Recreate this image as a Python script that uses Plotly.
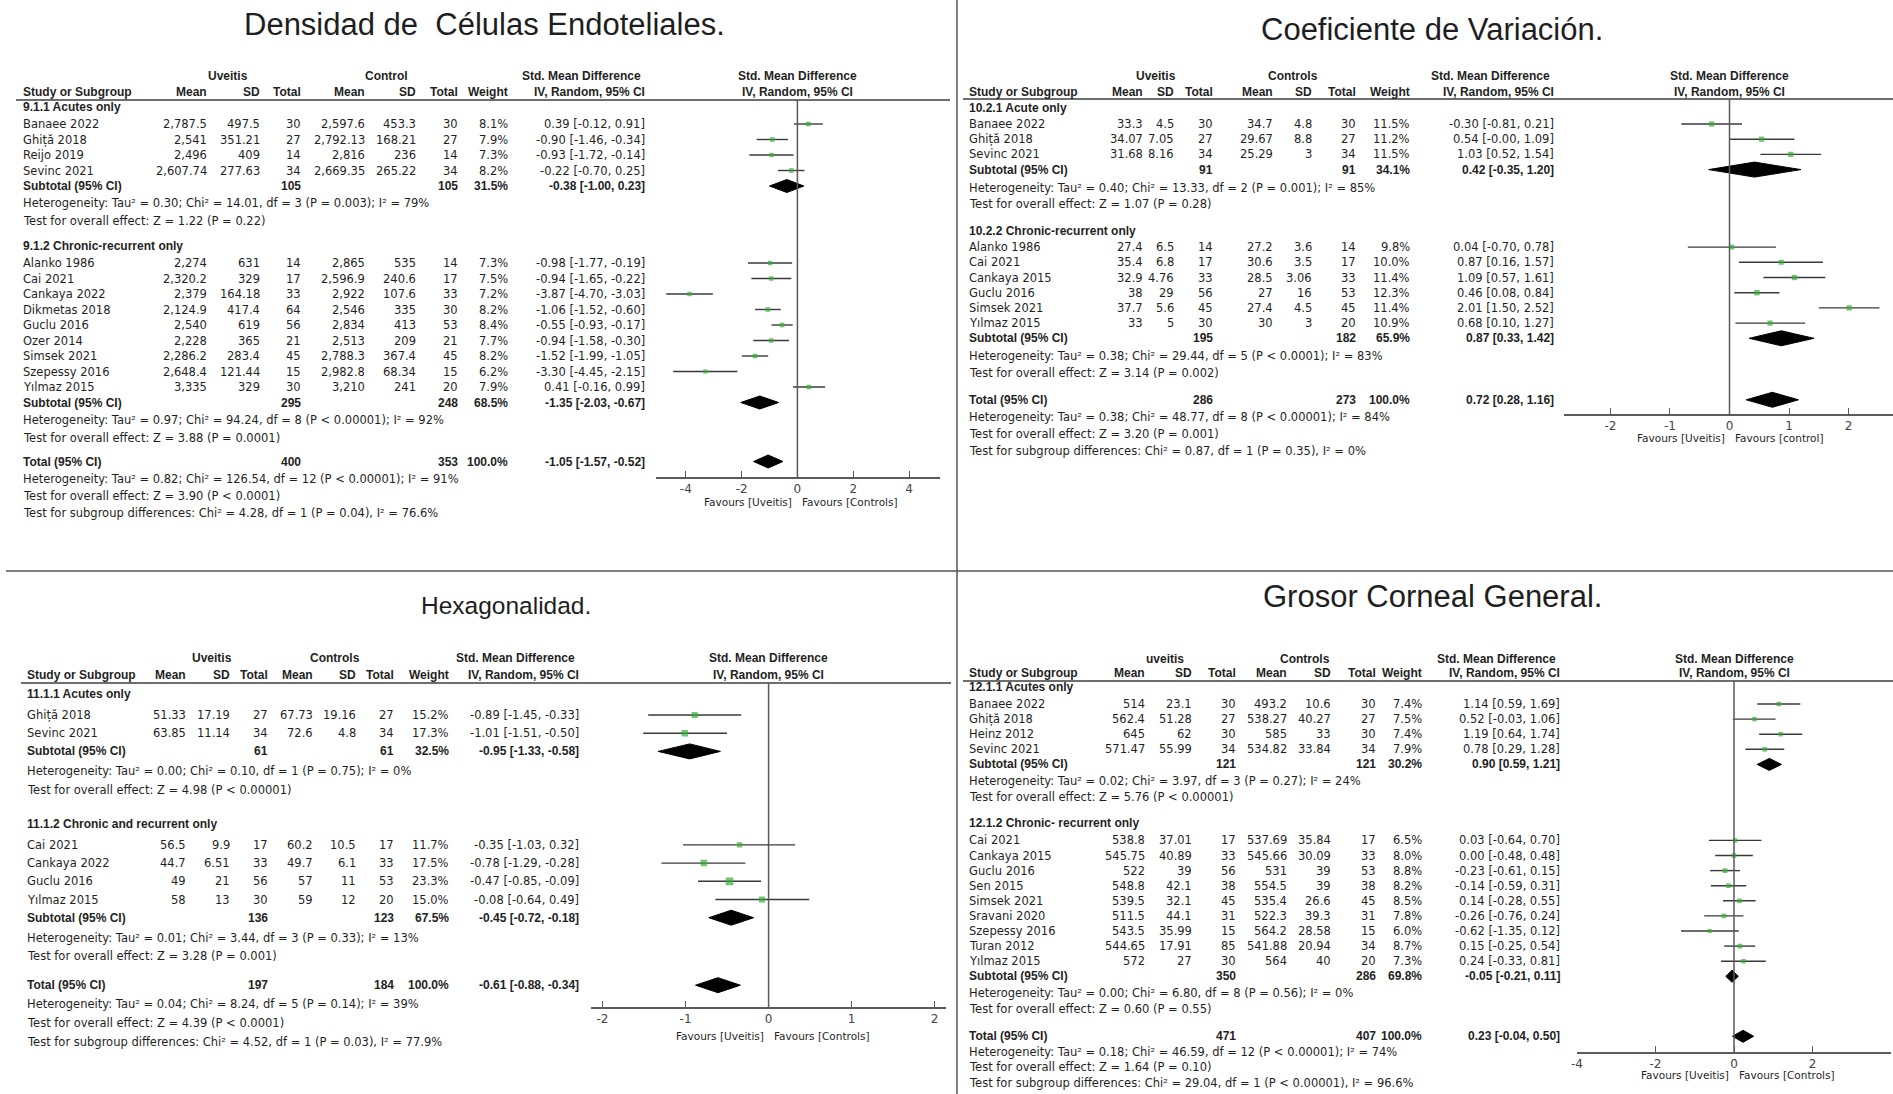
import plotly.graph_objects as go

W, H = 1893, 1094
FONT = "DejaVu Sans, Verdana, sans-serif"
BOLD_FONT = "Liberation Sans, Arial, sans-serif"
TITLE_FONT = "Liberation Sans, Arial, sans-serif"
INK = "#1f1f1f"
GREEN = "#36ad36"
CI_COL = "#3a3a3a"
AX_COL = "#5a5a5a"

# ================= Panel 1: Densidad de Células Endoteliales =================
ECD_title = "Densidad de  Células Endoteliales."
ECD_arms = ["Uveitis", "Control"]
ECD_subgroups = ["9.1.1 Acutes only", "9.1.2 Chronic-recurrent only"]
ECD_study = ["Banaee 2022", "Ghiță 2018", "Reijo 2019", "Sevinc 2021",
             "Alanko 1986", "Cai 2021", "Cankaya 2022", "Dikmetas 2018", "Guclu 2016",
             "Ozer 2014", "Simsek 2021", "Szepessy 2016", "Yılmaz 2015"]
ECD_grp = [0, 0, 0, 0, 1, 1, 1, 1, 1, 1, 1, 1, 1]
ECD_u_mean = [2787.5, 2541, 2496, 2607.74, 2274, 2320.2, 2379, 2124.9, 2540, 2228, 2286.2, 2648.4, 3335]
ECD_u_sd = [497.5, 351.21, 409, 277.63, 631, 329, 164.18, 417.4, 619, 365, 283.4, 121.44, 329]
ECD_u_n = [30, 27, 14, 34, 14, 17, 33, 64, 56, 21, 45, 15, 30]
ECD_c_mean = [2597.6, 2792.13, 2816, 2669.35, 2865, 2596.9, 2922, 2546, 2834, 2513, 2788.3, 2982.8, 3210]
ECD_c_sd = [453.3, 168.21, 236, 265.22, 535, 240.6, 107.6, 335, 413, 209, 367.4, 68.34, 241]
ECD_c_n = [30, 27, 14, 34, 14, 17, 33, 30, 53, 21, 45, 15, 20]
ECD_weight = [8.1, 7.9, 7.3, 8.2, 7.3, 7.5, 7.2, 8.2, 8.4, 7.7, 8.2, 6.2, 7.9]
ECD_smd = [0.39, -0.90, -0.93, -0.22, -0.98, -0.94, -3.87, -1.06, -0.55, -0.94, -1.52, -3.30, 0.41]
ECD_lo = [-0.12, -1.46, -1.72, -0.70, -1.77, -1.65, -4.70, -1.52, -0.93, -1.58, -1.99, -4.45, -0.16]
ECD_hi = [0.91, -0.34, -0.14, 0.25, -0.19, -0.22, -3.03, -0.60, -0.17, -0.30, -1.05, -2.15, 0.99]
ECD_sum_n1 = [105, 295, 400]
ECD_sum_n2 = [105, 248, 353]
ECD_sum_weight = [31.5, 68.5, 100.0]
ECD_sum_smd = [-0.38, -1.35, -1.05]
ECD_sum_lo = [-1.00, -2.03, -1.57]
ECD_sum_hi = [0.23, -0.67, -0.52]
ECD_notes = [
    ["Heterogeneity: Tau² = 0.30; Chi² = 14.01, df = 3 (P = 0.003); I² = 79%",
     "Test for overall effect: Z = 1.22 (P = 0.22)"],
    ["Heterogeneity: Tau² = 0.97; Chi² = 94.24, df = 8 (P < 0.00001); I² = 92%",
     "Test for overall effect: Z = 3.88 (P = 0.0001)"],
    ["Heterogeneity: Tau² = 0.82; Chi² = 126.54, df = 12 (P < 0.00001); I² = 91%",
     "Test for overall effect: Z = 3.90 (P < 0.0001)",
     "Test for subgroup differences: Chi² = 4.28, df = 1 (P = 0.04), I² = 76.6%"],
]
ECD_ticks = [-4, -2, 0, 2, 4]
ECD_favours = ["Favours [Uveitis]", "Favours [Controls]"]

# ================= Panel 2: Coeficiente de Variación =================
CV_title = "Coeficiente de Variación."
CV_arms = ["Uveitis", "Controls"]
CV_subgroups = ["10.2.1 Acute only", "10.2.2 Chronic-recurrent only"]
CV_study = ["Banaee 2022", "Ghiță 2018", "Sevinc 2021",
            "Alanko 1986", "Cai 2021", "Cankaya 2015", "Guclu 2016", "Simsek 2021", "Yılmaz 2015"]
CV_grp = [0, 0, 0, 1, 1, 1, 1, 1, 1]
CV_u_mean = [33.3, 34.07, 31.68, 27.4, 35.4, 32.9, 38, 37.7, 33]
CV_u_sd = [4.5, 7.05, 8.16, 6.5, 6.8, 4.76, 29, 5.6, 5]
CV_u_n = [30, 27, 34, 14, 17, 33, 56, 45, 30]
CV_c_mean = [34.7, 29.67, 25.29, 27.2, 30.6, 28.5, 27, 27.4, 30]
CV_c_sd = [4.8, 8.8, 3, 3.6, 3.5, 3.06, 16, 4.5, 3]
CV_c_n = [30, 27, 34, 14, 17, 33, 53, 45, 20]
CV_weight = [11.5, 11.2, 11.5, 9.8, 10.0, 11.4, 12.3, 11.4, 10.9]
CV_smd = [-0.30, 0.54, 1.03, 0.04, 0.87, 1.09, 0.46, 2.01, 0.68]
CV_lo = [-0.81, -0.0, 0.52, -0.70, 0.16, 0.57, 0.08, 1.50, 0.10]
CV_hi = [0.21, 1.09, 1.54, 0.78, 1.57, 1.61, 0.84, 2.52, 1.27]
CV_sum_n1 = [91, 195, 286]
CV_sum_n2 = [91, 182, 273]
CV_sum_weight = [34.1, 65.9, 100.0]
CV_sum_smd = [0.42, 0.87, 0.72]
CV_sum_lo = [-0.35, 0.33, 0.28]
CV_sum_hi = [1.20, 1.42, 1.16]
CV_notes = [
    ["Heterogeneity: Tau² = 0.40; Chi² = 13.33, df = 2 (P = 0.001); I² = 85%",
     "Test for overall effect: Z = 1.07 (P = 0.28)"],
    ["Heterogeneity: Tau² = 0.38; Chi² = 29.44, df = 5 (P < 0.0001); I² = 83%",
     "Test for overall effect: Z = 3.14 (P = 0.002)"],
    ["Heterogeneity: Tau² = 0.38; Chi² = 48.77, df = 8 (P < 0.00001); I² = 84%",
     "Test for overall effect: Z = 3.20 (P = 0.001)",
     "Test for subgroup differences: Chi² = 0.87, df = 1 (P = 0.35), I² = 0%"],
]
CV_ticks = [-2, -1, 0, 1, 2]
CV_favours = ["Favours [Uveitis]", "Favours [control]"]

# ================= Panel 3: Hexagonalidad =================
HEX_title = "Hexagonalidad."
HEX_arms = ["Uveitis", "Controls"]
HEX_subgroups = ["11.1.1 Acutes only", "11.1.2 Chronic and recurrent only"]
HEX_study = ["Ghiță 2018", "Sevinc 2021", "Cai 2021", "Cankaya 2022", "Guclu 2016", "Yılmaz 2015"]
HEX_grp = [0, 0, 1, 1, 1, 1]
HEX_u_mean = [51.33, 63.85, 56.5, 44.7, 49, 58]
HEX_u_sd = [17.19, 11.14, 9.9, 6.51, 21, 13]
HEX_u_n = [27, 34, 17, 33, 56, 30]
HEX_c_mean = [67.73, 72.6, 60.2, 49.7, 57, 59]
HEX_c_sd = [19.16, 4.8, 10.5, 6.1, 11, 12]
HEX_c_n = [27, 34, 17, 33, 53, 20]
HEX_weight = [15.2, 17.3, 11.7, 17.5, 23.3, 15.0]
HEX_smd = [-0.89, -1.01, -0.35, -0.78, -0.47, -0.08]
HEX_lo = [-1.45, -1.51, -1.03, -1.29, -0.85, -0.64]
HEX_hi = [-0.33, -0.50, 0.32, -0.28, -0.09, 0.49]
HEX_sum_n1 = [61, 136, 197]
HEX_sum_n2 = [61, 123, 184]
HEX_sum_weight = [32.5, 67.5, 100.0]
HEX_sum_smd = [-0.95, -0.45, -0.61]
HEX_sum_lo = [-1.33, -0.72, -0.88]
HEX_sum_hi = [-0.58, -0.18, -0.34]
HEX_notes = [
    ["Heterogeneity: Tau² = 0.00; Chi² = 0.10, df = 1 (P = 0.75); I² = 0%",
     "Test for overall effect: Z = 4.98 (P < 0.00001)"],
    ["Heterogeneity: Tau² = 0.01; Chi² = 3.44, df = 3 (P = 0.33); I² = 13%",
     "Test for overall effect: Z = 3.28 (P = 0.001)"],
    ["Heterogeneity: Tau² = 0.04; Chi² = 8.24, df = 5 (P = 0.14); I² = 39%",
     "Test for overall effect: Z = 4.39 (P < 0.0001)",
     "Test for subgroup differences: Chi² = 4.52, df = 1 (P = 0.03), I² = 77.9%"],
]
HEX_ticks = [-2, -1, 0, 1, 2]
HEX_favours = ["Favours [Uveitis]", "Favours [Controls]"]

# ================= Panel 4: Grosor Corneal General =================
CCT_title = "Grosor Corneal General."
CCT_arms = ["uveitis", "Controls"]
CCT_subgroups = ["12.1.1 Acutes only", "12.1.2 Chronic- recurrent only"]
CCT_study = ["Banaee 2022", "Ghiță 2018", "Heinz 2012", "Sevinc 2021",
             "Cai 2021", "Cankaya 2015", "Guclu 2016", "Sen 2015", "Simsek 2021",
             "Sravani 2020", "Szepessy 2016", "Turan 2012", "Yılmaz 2015"]
CCT_grp = [0, 0, 0, 0, 1, 1, 1, 1, 1, 1, 1, 1, 1]
CCT_u_mean = [514, 562.4, 645, 571.47, 538.8, 545.75, 522, 548.8, 539.5, 511.5, 543.5, 544.65, 572]
CCT_u_sd = [23.1, 51.28, 62, 55.99, 37.01, 40.89, 39, 42.1, 32.1, 44.1, 35.99, 17.91, 27]
CCT_u_n = [30, 27, 30, 34, 17, 33, 56, 38, 45, 31, 15, 85, 30]
CCT_c_mean = [493.2, 538.27, 585, 534.82, 537.69, 545.66, 531, 554.5, 535.4, 522.3, 564.2, 541.88, 564]
CCT_c_sd = [10.6, 40.27, 33, 33.84, 35.84, 30.09, 39, 39, 26.6, 39.3, 28.58, 20.94, 40]
CCT_c_n = [30, 27, 30, 34, 17, 33, 53, 38, 45, 31, 15, 34, 20]
CCT_weight = [7.4, 7.5, 7.4, 7.9, 6.5, 8.0, 8.8, 8.2, 8.5, 7.8, 6.0, 8.7, 7.3]
CCT_smd = [1.14, 0.52, 1.19, 0.78, 0.03, 0.00, -0.23, -0.14, 0.14, -0.26, -0.62, 0.15, 0.24]
CCT_lo = [0.59, -0.03, 0.64, 0.29, -0.64, -0.48, -0.61, -0.59, -0.28, -0.76, -1.35, -0.25, -0.33]
CCT_hi = [1.69, 1.06, 1.74, 1.28, 0.70, 0.48, 0.15, 0.31, 0.55, 0.24, 0.12, 0.54, 0.81]
CCT_sum_n1 = [121, 350, 471]
CCT_sum_n2 = [121, 286, 407]
CCT_sum_weight = [30.2, 69.8, 100.0]
CCT_sum_smd = [0.90, -0.05, 0.23]
CCT_sum_lo = [0.59, -0.21, -0.04]
CCT_sum_hi = [1.21, 0.11, 0.50]
CCT_notes = [
    ["Heterogeneity: Tau² = 0.02; Chi² = 3.97, df = 3 (P = 0.27); I² = 24%",
     "Test for overall effect: Z = 5.76 (P < 0.00001)"],
    ["Heterogeneity: Tau² = 0.00; Chi² = 6.80, df = 8 (P = 0.56); I² = 0%",
     "Test for overall effect: Z = 0.60 (P = 0.55)"],
    ["Heterogeneity: Tau² = 0.18; Chi² = 46.59, df = 12 (P < 0.00001); I² = 74%",
     "Test for overall effect: Z = 1.64 (P = 0.10)",
     "Test for subgroup differences: Chi² = 29.04, df = 1 (P < 0.00001), I² = 96.6%"],
]
CCT_ticks = [-4, -2, 0, 2, 4]
CCT_favours = ["Favours [Uveitis]", "Favours [Controls]"]

# ================= layout (pixel geometry of each panel) =================
LAY = {
    2: dict(title_xy=(480, 24), tsize=31, xs=16, m1=203, s1=255.5, n1=297, m2=361, s2=412.5, n2=454.6,
            w=505, ci=642, g1=223, g2=382, yh1=76, yh2=92, yl=100, lx0=10, lx1=947,
            y0=107, first=17, step=15.5, het=17, line=18, gap=25, tgap=24, tline=17,
            px0=652, px1=937, xr=[-5.07, 5.11], yax=478, yfav=502, dh=6.5),
    3: dict(title_xy=(1431, 29), tsize=31, xs=965, m1=1141.4, s1=1172.3, n1=1212.1, m2=1271.8, s2=1310.9,
            n2=1354.9, w=1409.2, ci=1554, g1=1154, g2=1291, yh1=76, yh2=92, yl=99, lx0=960, lx1=1893,
            y0=108, first=16, step=15.2, het=18, line=16.5, gap=27, tgap=27, tline=17,
            px0=1563, px1=1893, xr=[-2.78, 2.747], yax=415, yfav=438, dh=7.5),
    4: dict(title_xy=(502, 605), tsize=24.5, xs=20, m1=181.8, s1=225.8, n1=264, m2=309.2, s2=352, n2=390.3,
            w=445, ci=576, g1=206.6, g2=329.8, yh1=658, yh2=675, yl=683, lx0=15, lx1=948,
            y0=694, first=21, step=18.2, het=20, line=18.5, gap=34, tgap=29, tline=19,
            px0=587, px1=943, xr=[-2.137, 2.137], yax=1008, yfav=1036, dh=7.5),
    5: dict(title_xy=(1431, 596), tsize=31, xs=965, m1=1144, s1=1191, n1=1235, m2=1286.4, s2=1329.8,
            n2=1374.9, w=1421, ci=1560, g1=1162.6, g2=1303, yh1=659, yh2=673, yl=681, lx0=960, lx1=1893,
            y0=687, first=17, step=15.1, het=17, line=16, gap=26, tgap=27, tline=15.5,
            px0=1576, px1=1891, xr=[-4, 4], yax=1053, yfav=1075, dh=6),
}
FS = 11.5      # regular table text
BS = 12        # bold table text

PANELS = {
    2: dict(title=ECD_title, arms=ECD_arms, subgroups=ECD_subgroups, study=ECD_study, grp=ECD_grp,
            um=ECD_u_mean, us=ECD_u_sd, un=ECD_u_n, cm=ECD_c_mean, cs=ECD_c_sd, cn=ECD_c_n,
            wt=ECD_weight, smd=ECD_smd, lo=ECD_lo, hi=ECD_hi, sn1=ECD_sum_n1, sn2=ECD_sum_n2,
            sw=ECD_sum_weight, ssmd=ECD_sum_smd, slo=ECD_sum_lo, shi=ECD_sum_hi, notes=ECD_notes,
            ticks=ECD_ticks, fav=ECD_favours),
    3: dict(title=CV_title, arms=CV_arms, subgroups=CV_subgroups, study=CV_study, grp=CV_grp,
            um=CV_u_mean, us=CV_u_sd, un=CV_u_n, cm=CV_c_mean, cs=CV_c_sd, cn=CV_c_n,
            wt=CV_weight, smd=CV_smd, lo=CV_lo, hi=CV_hi, sn1=CV_sum_n1, sn2=CV_sum_n2,
            sw=CV_sum_weight, ssmd=CV_sum_smd, slo=CV_sum_lo, shi=CV_sum_hi, notes=CV_notes,
            ticks=CV_ticks, fav=CV_favours),
    4: dict(title=HEX_title, arms=HEX_arms, subgroups=HEX_subgroups, study=HEX_study, grp=HEX_grp,
            um=HEX_u_mean, us=HEX_u_sd, un=HEX_u_n, cm=HEX_c_mean, cs=HEX_c_sd, cn=HEX_c_n,
            wt=HEX_weight, smd=HEX_smd, lo=HEX_lo, hi=HEX_hi, sn1=HEX_sum_n1, sn2=HEX_sum_n2,
            sw=HEX_sum_weight, ssmd=HEX_sum_smd, slo=HEX_sum_lo, shi=HEX_sum_hi, notes=HEX_notes,
            ticks=HEX_ticks, fav=HEX_favours),
    5: dict(title=CCT_title, arms=CCT_arms, subgroups=CCT_subgroups, study=CCT_study, grp=CCT_grp,
            um=CCT_u_mean, us=CCT_u_sd, un=CCT_u_n, cm=CCT_c_mean, cs=CCT_c_sd, cn=CCT_c_n,
            wt=CCT_weight, smd=CCT_smd, lo=CCT_lo, hi=CCT_hi, sn1=CCT_sum_n1, sn2=CCT_sum_n2,
            sw=CCT_sum_weight, ssmd=CCT_sum_smd, slo=CCT_sum_lo, shi=CCT_sum_hi, notes=CCT_notes,
            ticks=CCT_ticks, fav=CCT_favours),
}


def num(v):
    return f"{v:,}"


def ci_text(e, l, h):
    return f"{e:.2f} [{l:.2f}, {h:.2f}]"


fig = go.Figure()
ann = []
shapes = []


def T(x, y, s, anchor="left", bold=False, size=None, color=INK, xref="x", xshift=0, family=None):
    if size is None:
        size = BS if bold else FS
    if family is None:
        family = BOLD_FONT if bold else FONT
    ann.append(dict(x=x, y=y, xref=xref, yref="y", text=(f"<b>{s}</b>" if bold else s),
                    showarrow=False, xanchor=anchor, yanchor="middle", xshift=xshift,
                    borderpad=0, font=dict(family=family, size=size, color=color)))


for k, D in PANELS.items():
    L = LAY[k]
    xa = f"x{k}"
    # title
    T(L["title_xy"][0], L["title_xy"][1], D["title"], "center", size=L["tsize"], color="#1e1e1e",
      family=TITLE_FONT)
    # header rows
    T(L["g1"], L["yh1"], D["arms"][0], "center", True)
    T(L["g2"], L["yh1"], D["arms"][1], "center", True)
    T(L["ci"] - 65, L["yh1"], "Std. Mean Difference", "center", True)
    T(L["xs"], L["yh2"], "Study or Subgroup", "left", True)
    for key, lab in [("m1", "Mean"), ("s1", "SD"), ("n1", "Total"), ("m2", "Mean"), ("s2", "SD"),
                     ("n2", "Total"), ("w", "Weight"), ("ci", "IV, Random, 95% CI")]:
        T(L[key], L["yh2"], lab, "right", True)
    T(0, L["yh1"], "Std. Mean Difference", "center", True, xref=xa)
    T(0, L["yh2"], "IV, Random, 95% CI", "center", True, xref=xa)
    shapes.append(dict(type="line", xref="x", yref="y", x0=L["lx0"], x1=L["lx1"], y0=L["yl"], y1=L["yl"],
                       line=dict(color="#6e6e6e", width=2)))

    # row positions
    n_a = sum(1 for g in D["grp"] if g == 0)
    n_b = len(D["grp"]) - n_a
    y = L["y0"]
    glab_y = [y]
    rows = []
    y += L["first"]
    for _ in range(n_a):
        rows.append(y)
        y += L["step"]
    sub_y = [y]
    note_y = [[y + L["het"], y + L["het"] + L["line"]]]
    y = note_y[0][1] + L["gap"]
    glab_y.append(y)
    y += L["first"]
    for _ in range(n_b):
        rows.append(y)
        y += L["step"]
    sub_y.append(y)
    note_y.append([y + L["het"], y + L["het"] + L["line"]])
    y = note_y[1][1] + L["tgap"]
    sub_y.append(y)
    note_y.append([y + L["tline"] * (j + 1) for j in range(3)])

    for g in range(2):
        T(L["xs"], glab_y[g], D["subgroups"][g], "left", True)

    for i, yy in enumerate(rows):
        T(L["xs"], yy, D["study"][i], "left")
        T(L["m1"], yy, num(D["um"][i]), "right")
        T(L["s1"], yy, num(D["us"][i]), "right")
        T(L["n1"], yy, num(D["un"][i]), "right")
        T(L["m2"], yy, num(D["cm"][i]), "right")
        T(L["s2"], yy, num(D["cs"][i]), "right")
        T(L["n2"], yy, num(D["cn"][i]), "right")
        T(L["w"], yy, f"{D['wt'][i]:.1f}%", "right")
        T(L["ci"], yy, ci_text(D["smd"][i], D["lo"][i], D["hi"][i]), "right")

    for j, yy in enumerate(sub_y):
        T(L["xs"], yy, "Total (95% CI)" if j == 2 else "Subtotal (95% CI)", "left", True)
        T(L["n1"], yy, str(D["sn1"][j]), "right", True)
        T(L["n2"], yy, str(D["sn2"][j]), "right", True)
        T(L["w"], yy, f"{D['sw'][j]:.1f}%", "right", True)
        T(L["ci"], yy, ci_text(D["ssmd"][j], D["slo"][j], D["shi"][j]), "right", True)
        for t, ny in zip(D["notes"][j], note_y[j]):
            T(L["xs"], ny, t, "left")

    # forest plot: CI lines
    lx, ly = [], []
    for i, yy in enumerate(rows):
        lx += [D["lo"][i], D["hi"][i], None]
        ly += [yy, yy, None]
    fig.add_trace(go.Scatter(x=lx, y=ly, mode="lines", line=dict(color=CI_COL, width=1.4),
                             xaxis=xa, yaxis="y", hoverinfo="skip", showlegend=False))
    fig.add_trace(go.Scatter(x=D["smd"], y=rows, mode="markers",
                             marker=dict(symbol="square", color=GREEN, size=[3 + 0.2 * w for w in D["wt"]],
                                         line=dict(width=0)),
                             xaxis=xa, yaxis="y", hoverinfo="skip", showlegend=False))
    dx, dy = [], []
    for j, yy in enumerate(sub_y):
        dx += [D["slo"][j], D["ssmd"][j], D["shi"][j], D["ssmd"][j], D["slo"][j], None]
        dy += [yy, yy - L["dh"], yy, yy + L["dh"], yy, None]
    fig.add_trace(go.Scatter(x=dx, y=dy, mode="lines", fill="toself", fillcolor="black",
                             line=dict(color="black", width=1), xaxis=xa, yaxis="y",
                             hoverinfo="skip", showlegend=False))
    shapes.append(dict(type="line", xref=xa, yref="y", x0=0, x1=0, y0=L["yl"], y1=L["yax"],
                       line=dict(color=AX_COL, width=1.5)))
    T(0, L["yfav"], D["fav"][0], "right", False, 10.5, xref=xa, xshift=-4)
    T(0, L["yfav"], D["fav"][1], "left", False, 10.5, xref=xa, xshift=4)

    fig.layout[f"xaxis{k}"] = dict(
        domain=[L["px0"] / W, L["px1"] / W], range=L["xr"], anchor="free", position=1 - L["yax"] / H,
        showline=True, linecolor=AX_COL, linewidth=1.5, ticks="inside", ticklen=6, tickwidth=1.3,
        tickcolor=AX_COL, tickvals=D["ticks"], ticktext=[str(t) for t in D["ticks"]],
        tickfont=dict(family=FONT, size=12, color="#444"), showgrid=False, zeroline=False, fixedrange=True)

# quadrant dividers
shapes.append(dict(type="line", xref="x", yref="y", x0=954, x1=954, y0=0, y1=H, line=dict(color="#555", width=1.5)))
shapes.append(dict(type="line", xref="x", yref="y", x0=0, x1=W, y0=571, y1=571, line=dict(color="#555", width=1.5)))

fig.update_layout(
    width=W, height=H, margin=dict(l=0, r=0, t=0, b=0), paper_bgcolor="white", plot_bgcolor="rgba(0,0,0,0)",
    xaxis=dict(domain=[0, 1], range=[0, W], visible=False, fixedrange=True),
    yaxis=dict(domain=[0, 1], range=[H, 0], visible=False, fixedrange=True),
    annotations=ann, shapes=shapes, showlegend=False,
)

fig.write_html("out.html", config={"displayModeBar": False},
               post_script="document.body.style.margin='0';document.body.style.overflow='hidden';")
